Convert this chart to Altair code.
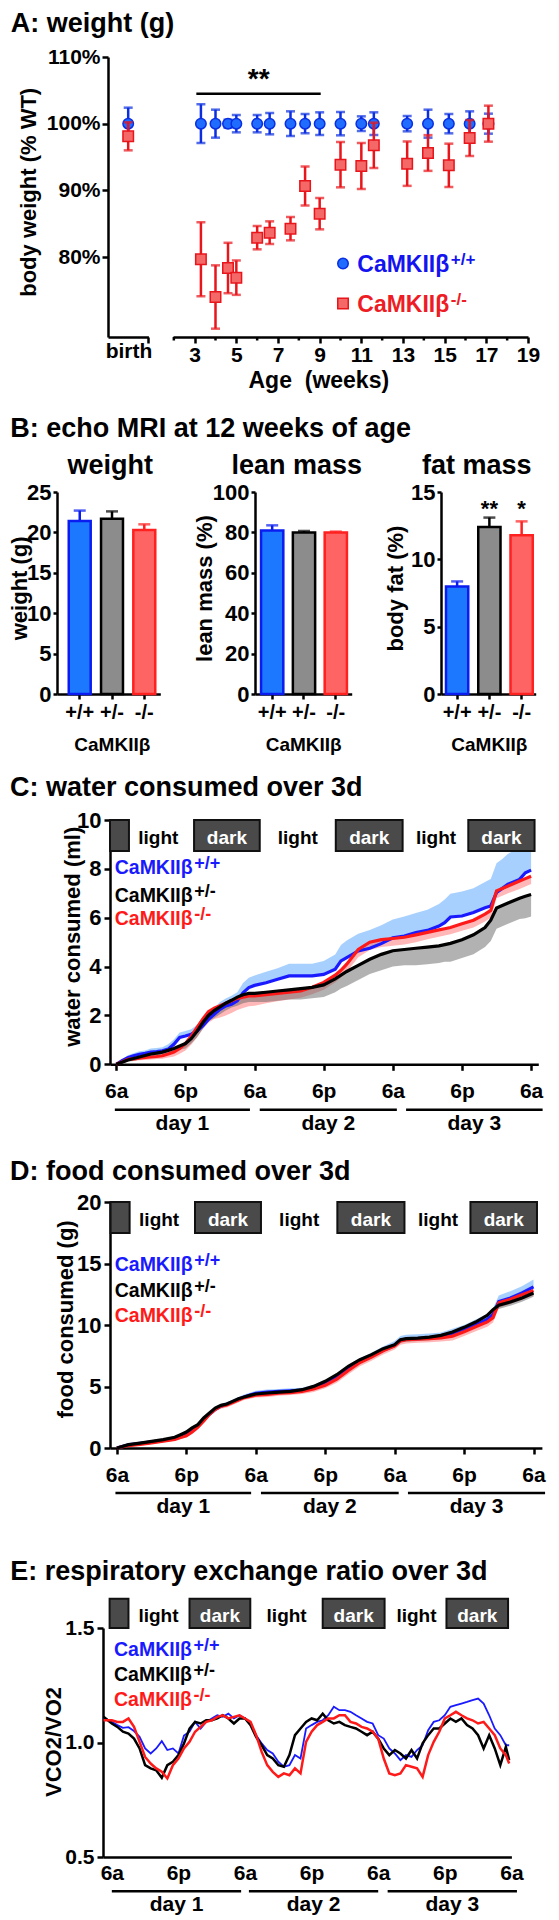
import altair as alt
import pandas as pd

FONT = "Liberation Sans"

# ======================= DATA =======================
# ---- A: body weight relative to WT (%) ----
A_AGES = [3.3, 4, 4.6, 5, 6, 6.6, 7.6, 8.3, 9, 10, 11, 11.6, 13.2, 14.2, 15.2, 16.2, 17.1]
A_WT_MEAN = [100, 100, 100, 100, 100, 100, 100, 100, 100, 100, 100, 100, 100, 100, 100, 100, 100]
A_WT_SEM = [2.9, 2.1, 0.6, 1.3, 1.3, 1.6, 1.85, 1.45, 1.7, 1.75, 1.1, 1.7, 1.15, 2.1, 1.45, 1.85, 1.5]
A_KO_MEAN = [79.65, 74.0, 78.35, 76.9, 82.9, 83.65, 84.25, 90.65, 86.5, 93.85, 93.65, 96.75,
             94.0, 95.6, 93.75, 97.85, 100.0]
A_KO_SEM = [5.55, 4.75, 3.78, 2.58, 1.75, 1.7, 1.75, 2.93, 2.35, 3.4, 3.45, 3.4, 3.33, 2.68, 3.25, 2.7, 2.7]
A_BIRTH_MEAN = [100, 98.1]          # WT, KO
A_BIRTH_SEM = [2.4, 2.1]
A_SIG_SPAN = [3.08, 9.05]
A_SIG_LEVEL = 104.5
A_SIG_STAR = [6.07, 105.3]
A_Y_TICKS = [80, 90, 100, 110]
A_WEEK_TICKS = [3, 5, 7, 9, 11, 13, 15, 17, 19]
A_WEEK_MINOR = [2, 4, 6, 8, 10, 12, 14, 16, 18]

# ---- B: echo MRI ----
B_GENO = ["+/+", "+/-", "-/-"]
B_WEIGHT = [21.4, 21.7, 20.3]
B_WEIGHT_SEM = [1.3, 0.9, 0.7]
B_LEAN = [81.0, 79.9, 79.9]
B_LEAN_SEM = [2.5, 0.8, 0.5]
B_FAT = [7.98, 12.4, 11.78]
B_FAT_SEM = [0.38, 0.7, 1.04]
B_FAT_SIG = ["", "**", "*"]

# ---- C: water consumed (ml) ----
C_HOURS = [0, 1, 2, 3, 4, 5, 6, 7, 8, 9, 10, 11, 12, 13, 14, 15, 16, 17, 18, 19, 20, 21, 22, 23, 24,
           26, 28, 30, 32, 34, 36, 38, 39, 40, 42, 44, 46, 48, 50, 52, 54, 56, 57, 58, 60, 62, 64,
           65, 66, 67, 68, 70, 71, 72]
C_WT = [0, 0.15, 0.27, 0.35, 0.41, 0.45, 0.5, 0.52, 0.55, 0.62, 0.82, 1.1, 1.16, 1.23, 1.36, 1.57,
        1.84, 2.05, 2.25, 2.39, 2.46, 2.6, 2.93, 3.14, 3.23,
        3.34, 3.48, 3.62, 3.62, 3.62, 3.68, 3.89, 4.23, 4.37, 4.64, 4.75, 4.94, 5.18, 5.25, 5.39,
        5.48, 5.66, 5.8, 6.03, 6.07, 6.21, 6.41, 6.48, 7.03, 7.2, 7.37, 7.57, 7.84, 7.95]
C_HET = [0, 0.08, 0.18, 0.24, 0.3, 0.36, 0.42, 0.46, 0.5, 0.57, 0.65, 0.75, 0.85, 1.05, 1.35, 1.7,
         2.0, 2.2, 2.35, 2.5, 2.62, 2.75, 2.85, 2.9, 2.9,
         2.95, 3.0, 3.05, 3.1, 3.15, 3.25, 3.5, 3.65, 3.8, 4.05, 4.3, 4.5, 4.65, 4.7, 4.75, 4.8,
         4.85, 4.9, 4.95, 5.1, 5.3, 5.6, 5.9, 6.4, 6.5, 6.6, 6.8, 6.88, 6.95]
C_KO = [0, 0.1, 0.2, 0.22, 0.25, 0.28, 0.3, 0.32, 0.35, 0.42, 0.5, 0.65, 0.85, 1.15, 1.5, 1.85,
        2.15, 2.3, 2.4, 2.5, 2.6, 2.7, 2.75, 2.8, 2.8,
        2.85, 2.9, 2.95, 3.0, 3.15, 3.35, 3.65, 3.85, 4.1, 4.7, 5.0, 5.1, 5.15, 5.2, 5.3, 5.4,
        5.5, 5.55, 5.6, 5.75, 5.9, 6.15, 6.3, 7.1, 7.2, 7.3, 7.5, 7.6, 7.7]
C_WT_SEM = [0, 0.05, 0.1, 0.1, 0.12, 0.12, 0.15, 0.15, 0.15, 0.2, 0.2, 0.2, 0.2, 0.2, 0.25, 0.25,
            0.25, 0.25, 0.3, 0.3, 0.35, 0.35, 0.4, 0.4, 0.4,
            0.45, 0.45, 0.5, 0.5, 0.5, 0.55, 0.6, 0.65, 0.7, 0.7, 0.75, 0.75, 0.75, 0.8, 0.8, 0.85,
            0.9, 0.95, 0.95, 1.0, 1.0, 1.05, 1.1, 1.2, 1.2, 1.25, 1.3, 1.3, 1.3]
C_HET_SEM = [0, 0.05, 0.08, 0.1, 0.1, 0.1, 0.12, 0.12, 0.15, 0.15, 0.15, 0.15, 0.2, 0.2, 0.25, 0.25,
             0.25, 0.3, 0.3, 0.3, 0.3, 0.35, 0.35, 0.35, 0.35,
             0.4, 0.4, 0.4, 0.45, 0.45, 0.5, 0.55, 0.55, 0.6, 0.6, 0.6, 0.65, 0.65, 0.65, 0.7, 0.7,
             0.7, 0.7, 0.75, 0.75, 0.8, 0.8, 0.85, 0.85, 0.85, 0.85, 0.85, 0.9, 0.9]
C_KO_SEM = [0, 0.04, 0.06, 0.08, 0.08, 0.1, 0.1, 0.1, 0.12, 0.14, 0.18, 0.22, 0.28, 0.35, 0.4, 0.42,
            0.45, 0.45, 0.48, 0.5, 0.5, 0.48, 0.45, 0.42, 0.4,
            0.35, 0.32, 0.3, 0.28, 0.28, 0.3, 0.3, 0.3, 0.32, 0.32, 0.32, 0.3, 0.3, 0.3, 0.3, 0.28,
            0.28, 0.28, 0.28, 0.28, 0.3, 0.3, 0.3, 0.3, 0.3, 0.3, 0.32, 0.32, 0.32]

# ---- D: food consumed (g) ----
D_HOURS = [0, 2, 4, 6, 8, 10, 11, 12, 13, 14, 15, 16, 17, 18, 19, 20, 21, 22, 23, 24,
           26, 28, 30, 32, 34, 36, 38, 40, 42, 44, 46, 48, 49, 50, 52, 54, 56, 58, 60, 62, 64,
           65, 66, 68, 70, 72]
D_WT = [0, 0.25, 0.38, 0.5, 0.62, 0.75, 0.95, 1.15, 1.45, 1.8, 2.3, 2.75, 3.15, 3.4, 3.55, 3.75,
        3.95, 4.15, 4.3, 4.45, 4.55, 4.6, 4.65, 4.7, 4.9, 5.25, 5.75, 6.45, 7.0, 7.45, 7.95, 8.35,
        8.75, 8.85, 8.9, 8.95, 9.05, 9.3, 9.6, 10.0, 10.45, 10.85, 11.9, 12.2, 12.6, 13.1]
D_HET = [0, 0.27, 0.4, 0.54, 0.68, 0.87, 1.08, 1.3, 1.63, 1.9, 2.44, 2.85, 3.25, 3.47, 3.58, 3.79,
         4.01, 4.15, 4.28, 4.39, 4.47, 4.55, 4.61, 4.74, 5.01, 5.42, 5.96, 6.64, 7.18, 7.59, 8.08,
         8.4, 8.81, 8.89, 8.94, 9.02, 9.16, 9.43, 9.81, 10.24, 10.79, 11.25, 11.6, 11.87, 12.2, 12.6]
D_KO = [0, 0.2, 0.3, 0.42, 0.55, 0.7, 0.85, 1.0, 1.3, 1.7, 2.2, 2.75, 3.15, 3.4, 3.5, 3.7, 3.9,
        4.1, 4.2, 4.3, 4.35, 4.45, 4.5, 4.6, 4.8, 5.1, 5.6, 6.3, 6.95, 7.4, 7.9, 8.3, 8.7, 8.8,
        8.85, 8.9, 8.95, 9.1, 9.45, 9.85, 10.25, 10.6, 11.8, 12.1, 12.45, 12.8]
D_WT_SEM = [0, 0.05, 0.08, 0.1, 0.1, 0.12, 0.12, 0.15, 0.15, 0.2, 0.2, 0.2, 0.2, 0.2, 0.2, 0.2,
            0.2, 0.2, 0.2, 0.2, 0.2, 0.2, 0.2, 0.2, 0.25, 0.25, 0.3, 0.3, 0.3, 0.3, 0.3, 0.35,
            0.35, 0.35, 0.35, 0.35, 0.35, 0.4, 0.4, 0.45, 0.45, 0.5, 0.5, 0.55, 0.55, 0.6]
D_HET_SEM = [0, 0.05, 0.06, 0.08, 0.08, 0.1, 0.1, 0.12, 0.12, 0.15, 0.15, 0.15, 0.15, 0.15, 0.15,
             0.15, 0.15, 0.15, 0.15, 0.15, 0.15, 0.15, 0.15, 0.15, 0.2, 0.2, 0.2, 0.2, 0.25, 0.25,
             0.25, 0.25, 0.25, 0.25, 0.25, 0.25, 0.25, 0.25, 0.3, 0.3, 0.3, 0.3, 0.3, 0.3, 0.3, 0.3]
D_KO_SEM = [0, 0.05, 0.08, 0.1, 0.1, 0.12, 0.12, 0.15, 0.15, 0.2, 0.2, 0.2, 0.2, 0.2, 0.2, 0.2,
            0.2, 0.2, 0.2, 0.2, 0.2, 0.2, 0.2, 0.2, 0.25, 0.25, 0.3, 0.3, 0.3, 0.3, 0.3, 0.3,
            0.3, 0.3, 0.3, 0.3, 0.3, 0.35, 0.35, 0.35, 0.4, 0.4, 0.4, 0.4, 0.4, 0.4]

# ---- E: respiratory exchange ratio ----
E_HOURS = [-1.5] + list(range(0, 72)) + [71.6]
E_WT = [1.108, 1.09, 1.076, 1.064, 1.067, 1.05, 1.025, 0.974, 0.952, 0.974, 1.006, 0.967, 0.974,
        0.952, 1.03, 1.047, 1.09, 1.061, 1.09, 1.105, 1.119, 1.112, 1.126, 1.105, 1.119, 1.105,
        1.083, 1.032, 0.996, 0.967, 0.952, 0.916, 0.894, 0.901, 0.945, 0.93, 1.061, 1.076, 1.09,
        1.097, 1.119, 1.156, 1.141, 1.141, 1.134, 1.119, 1.105, 1.09, 1.083, 1.032, 1.017, 0.974,
        0.952, 0.923, 0.945, 0.937, 0.967, 0.988, 1.054, 1.09, 1.097, 1.119, 1.156, 1.163, 1.17,
        1.177, 1.185, 1.192, 1.17, 1.119, 1.061, 1.032, 0.988, 0.988]
E_HET = [1.112, 1.083, 1.068, 1.047, 1.039, 1.017, 0.974, 0.901, 0.887, 0.879, 0.846, 0.901, 0.916,
         0.945, 0.996, 1.061, 1.09, 1.083, 1.097, 1.097, 1.105, 1.119, 1.105, 1.083, 1.105, 1.105,
         1.076, 1.025, 0.988, 0.945, 0.93, 0.901, 0.894, 0.945, 1.032, 1.061, 1.09, 1.105, 1.097,
         1.126, 1.097, 1.083, 1.09, 1.076, 1.068, 1.061, 1.047, 1.032, 1.047, 1.017, 0.974, 0.945,
         0.967, 0.952, 0.93, 0.967, 0.93, 0.996, 1.032, 1.061, 1.061, 1.083, 1.105, 1.09, 1.105,
         1.076, 1.061, 1.032, 0.974, 1.032, 0.974, 0.901, 0.981, 0.923]
E_KO = [1.097, 1.097, 1.09, 1.09, 1.105, 1.068, 1.003, 0.937, 0.908, 0.887, 0.872, 0.843, 0.901,
        0.93, 0.974, 1.003, 1.047, 1.068, 1.09, 1.097, 1.112, 1.119, 1.105, 1.112, 1.119, 1.105,
        1.09, 1.032, 0.959, 0.901, 0.872, 0.85, 0.865, 0.857, 0.887, 0.865, 1.003, 1.047, 1.076,
        1.09, 1.105, 1.105, 1.119, 1.119, 1.09, 1.083, 1.068, 1.061, 1.047, 1.017, 0.93, 0.865,
        0.857, 0.865, 0.901, 0.894, 0.887, 0.85, 0.945, 1.003, 1.047, 1.105, 1.119, 1.134, 1.119,
        1.105, 1.097, 1.083, 1.09, 1.061, 1.032, 0.974, 0.945, 0.908]

# ---- light/dark cycle & day annotations (hours from first 6 am) ----
CLOCK_TICKS = [0, 12, 24, 36, 48, 60, 72]
DAY_NAMES = ["day 1", "day 2", "day 3"]
CD_DAY_START = [-0.25, 24.9, 50.3]
CD_DAY_END = [23.2, 48.7, 74.0]
E_DAY_START = [0.0, 24.7, 49.7]
E_DAY_END = [23.3, 48.0, 73.0]
BOX_TEXT = ["", "dark", "dark", "dark"]
CD_BOX_START = [-1.09, 13.5, 38.1, 61.1]
CD_BOX_END = [2.2, 24.9, 49.7, 72.6]
CD_LIGHT_AT = [7.3, 31.5, 55.5]
E_BOX_START = [-0.4, 14.0, 38.0, 60.3]
E_BOX_END = [3.0, 24.95, 49.15, 71.4]
E_LIGHT_AT = [8.4, 31.5, 54.9]
GENO_SUPS = ["+/+", "+/-", "-/-"]

# ======================= STYLE =======================
A_BLUE_FILL, A_BLUE_EDGE = "#1f6cff", "#0a2ee0"
A_RED_FILL, A_RED_EDGE = "#f46868", "#e8151b"
BAR_FILLS = ["#1c78ff", "#8c8c8c", "#ff6464"]
BAR_EDGES = ["#0a1cf0", "#000000", "#ff2020"]
L_BLUE, L_BLACK, L_RED = "#1a1aff", "#000000", "#ff1a1a"
E_BLUE, E_BLACK, E_RED = "#4fa2ff", "#666666", "#ff7070"


def one_row():
    return pd.DataFrame({"k": [0]})


def label(text, x, y, size, color="black", align="left", baseline="alphabetic", angle=0):
    return alt.Chart(one_row()).mark_text(
        text=text, font=FONT, fontSize=size, fontWeight="bold", color=color,
        align=align, baseline=baseline, angle=angle
    ).encode(x=alt.value(x), y=alt.value(y))


def spacer(w, h):
    return alt.Chart(one_row()).mark_rect(opacity=0).encode(
        x=alt.value(0), x2=alt.value(1), y=alt.value(0), y2=alt.value(1)
    ).properties(width=w, height=h)


def legend(x_right, baselines, colors, sups, size, sup_size, rise):
    out = []
    for b, c, s in zip(baselines, colors, sups):
        out.append(label("CaMKIIβ", x_right, b, size, c, align="right"))
        out.append(label(s, x_right + 1.5, b - rise, sup_size, c))
    return out


# ======================= PANEL A =======================
YA = alt.Scale(domain=[68, 110], nice=False, zero=False)


def err_points(df, xf, xscale, xaxis, yaxis, edge, fill, shape):
    X = alt.X(f"{xf}:Q", scale=xscale, axis=xaxis)
    base = alt.Chart(df)
    rule = base.mark_rule(color=edge, strokeWidth=2.5).encode(
        x=X, y=alt.Y("lo:Q", scale=YA, axis=yaxis), y2="hi:Q")
    caps = base.transform_fold(["lo", "hi"], as_=["end", "val"]).mark_tick(
        color=edge, orient="horizontal", size=9, thickness=2.5
    ).encode(x=X, y=alt.Y("val:Q", scale=YA, axis=yaxis))
    pts = base.mark_point(shape=shape, filled=True, fill=fill, stroke=edge, strokeWidth=1.5,
                          size=110, opacity=1).encode(x=X, y=alt.Y("m:Q", scale=YA, axis=yaxis))
    return [rule, caps, pts]


def mk(x, m, e):
    df = pd.DataFrame({"x": x, "m": m, "e": e})
    df["lo"] = df["m"] - df["e"]
    df["hi"] = df["m"] + df["e"]
    return df


ya_axis = alt.Axis(values=A_Y_TICKS, labelExpr="datum.value + '%'", tickSize=6, labelPadding=2,
                   title=None, labelFontSize=21)
bx_scale = alt.Scale(domain=[0, 2], nice=False, zero=False)
bx_axis = alt.Axis(values=[2], labels=False, tickSize=6, title=None)

birth = alt.layer(
    *err_points(mk([1.0], [A_BIRTH_MEAN[0]], [A_BIRTH_SEM[0]]), "x", bx_scale, bx_axis, ya_axis,
                A_BLUE_EDGE, A_BLUE_FILL, "circle"),
    *err_points(mk([1.0], [A_BIRTH_MEAN[1]], [A_BIRTH_SEM[1]]), "x", bx_scale, bx_axis, ya_axis,
                A_RED_EDGE, A_RED_FILL, "square"),
    label("birth", 21, 301, 21, align="center"),
    label("A: weight (g)", -97.3, -25, 27),
    label("body weight (% WT)", -79, 135.3, 22, align="center", baseline="middle", angle=270),
).properties(width=40.4, height=280)

wx_scale = alt.Scale(domain=[1.96, 19], nice=False, zero=False)
wx_axis = alt.Axis(values=A_WEEK_TICKS, tickSize=6, labelPadding=1, title=None, format="d",
                   labelFontSize=21)
sig_df = pd.DataFrame({"a": [A_SIG_SPAN[0]], "b": [A_SIG_SPAN[1]], "y": [A_SIG_LEVEL]})
star_df = pd.DataFrame({"x": [A_SIG_STAR[0]], "y": [A_SIG_STAR[1]]})
minor_df = pd.DataFrame({"x": A_WEEK_MINOR})

weeks = alt.layer(
    alt.Chart(sig_df).mark_rule(color="black", strokeWidth=2.5).encode(
        x=alt.X("a:Q", scale=wx_scale, axis=wx_axis), x2="b:Q",
        y=alt.Y("y:Q", scale=YA, axis=None)),
    alt.Chart(star_df).mark_text(text="**", font=FONT, fontSize=28, fontWeight="bold",
                                 baseline="alphabetic").encode(
        x=alt.X("x:Q", scale=wx_scale, axis=wx_axis), y=alt.Y("y:Q", scale=YA, axis=None)),
    *err_points(mk(A_AGES, A_WT_MEAN, A_WT_SEM), "x", wx_scale, wx_axis, None,
                A_BLUE_EDGE, A_BLUE_FILL, "circle"),
    *err_points(mk(A_AGES, A_KO_MEAN, A_KO_SEM), "x", wx_scale, wx_axis, None,
                A_RED_EDGE, A_RED_FILL, "square"),
    alt.Chart(minor_df).mark_rule(color="black", strokeWidth=2.5).encode(
        x=alt.X("x:Q", scale=wx_scale, axis=wx_axis), y=alt.value(280), y2=alt.value(283.5)),
    alt.Chart(one_row()).mark_point(shape="circle", filled=True, fill=A_BLUE_FILL,
                                    stroke=A_BLUE_EDGE, strokeWidth=1.5, size=110, opacity=1
                                    ).encode(x=alt.value(170), y=alt.value(206.6)),
    alt.Chart(one_row()).mark_point(shape="square", filled=True, fill=A_RED_FILL,
                                    stroke=A_RED_EDGE, strokeWidth=1.5, size=110, opacity=1
                                    ).encode(x=alt.value(170), y=alt.value(246.6)),
    *legend(276.3, [215, 255], ["#1414f0", "#ee1c24"], ["+/+", "-/-"], 23, 17, 7),
    label("Age\u00a0 (weeks)", 145.8, 331.3, 23, align="center"),
).properties(width=355, height=280)

row_a = alt.hconcat(spacer(99.3, 280), birth, spacer(24, 280), weeks, spacing=0, bounds="flush")


# ======================= PANEL B =======================
def bar_panel(vals, sems, ydom, yvals, w, pi, po, align, extras, stars=None):
    df = pd.DataFrame({"g": B_GENO, "v": vals, "e": sems})
    df["hi"] = df["v"] + df["e"]
    X = alt.X("g:N", sort=B_GENO,
              scale=alt.Scale(domain=B_GENO, paddingInner=pi, paddingOuter=po, align=align),
              axis=alt.Axis(title=None, labelAngle=0, tickSize=5, labelPadding=3, labelFontSize=20))
    ysc = alt.Scale(domain=ydom, nice=False)
    yax = alt.Axis(values=yvals, title=None, tickSize=4, labelPadding=2, labelFontSize=22)
    edge = alt.Scale(domain=B_GENO, range=BAR_EDGES)
    layers = [
        alt.Chart(df).mark_rule(strokeWidth=2.5).encode(
            x=X, y=alt.Y("v:Q", scale=ysc, axis=yax), y2="hi:Q",
            color=alt.Color("g:N", scale=edge, legend=None)),
        alt.Chart(df).mark_tick(orient="horizontal", size=12, thickness=2.5).encode(
            x=X, y=alt.Y("hi:Q", scale=ysc, axis=yax),
            color=alt.Color("g:N", scale=edge, legend=None)),
        alt.Chart(df).mark_bar(strokeWidth=2.5).encode(
            x=X, y=alt.Y("v:Q", scale=ysc, axis=yax),
            fill=alt.Fill("g:N", scale=alt.Scale(domain=B_GENO, range=BAR_FILLS), legend=None),
            stroke=alt.Stroke("g:N", scale=edge, legend=None)),
    ]
    if stars is not None:
        sdf = pd.DataFrame({"g": B_GENO, "s": stars})
        layers.append(alt.Chart(sdf).mark_text(font=FONT, fontSize=22, fontWeight="bold",
                                               baseline="alphabetic").encode(
            x=X, y=alt.value(24), text="s:N"))
    return alt.layer(*layers, *extras).properties(width=w, height=202)


b_weight = bar_panel(B_WEIGHT, B_WEIGHT_SEM, [0, 25], [0, 5, 10, 15, 20, 25], 103.3, 0.32, 0.26, 0.7, [
    label("B: echo MRI at 12 weeks of age", -46.7, -55, 27),
    label("weight", 53.3, -18.5, 27, align="center"),
    label("weight (g)", -36.7, 96.3, 22, align="center", baseline="middle", angle=270),
    label("CaMKIIβ", 55.3, 259, 19, align="center"),
])
b_lean = bar_panel(B_LEAN, B_LEAN_SEM, [0, 100], [0, 20, 40, 60, 80, 100], 96.7, 0.3, 0.17, 0.56, [
    label("lean mass", 41.7, -18.5, 27, align="center"),
    label("lean mass (%)", -50, 96.6, 22, align="center", baseline="middle", angle=270),
    label("CaMKIIβ", 48.7, 259, 19, align="center"),
])
b_fat = bar_panel(B_FAT, B_FAT_SEM, [0, 15], [0, 5, 10, 15], 94.7, 0.31, 0.123, 0.63, [
    label("fat mass", 35.7, -18.5, 27, align="center"),
    label("body fat (%)", -45, 96.6, 22, align="center", baseline="middle", angle=270),
    label("CaMKIIβ", 48.3, 259, 19, align="center"),
], stars=B_FAT_SIG)

row_b = alt.hconcat(spacer(48.7, 202), b_weight, spacer(93.3, 202), b_lean, spacer(88.3, 202),
                    b_fat, spacing=0, bounds="flush")


# ======================= PANELS C, D, E =======================
def time_panel(hours, series, xdom, w, h, ydom, yvals, yfmt, ylab, boxes, box_y, box_text_y,
               light_at, days, day_line_y, day_text_y, xticks, xpad, extras):
    xaxis = alt.Axis(values=CLOCK_TICKS, labelExpr="datum.value % 24 == 0 ? '6a' : '6p'",
                     ticks=xticks, tickSize=6, labelPadding=xpad, title=None)
    yaxis = alt.Axis(values=yvals, format=yfmt, tickSize=6, labelPadding=3, title=None,
                     labelFontSize=ylab)

    def X(f):
        return alt.X(f"{f}:Q", scale=alt.Scale(domain=xdom, nice=False, zero=False), axis=xaxis)

    def Y(f):
        return alt.Y(f"{f}:Q", scale=alt.Scale(domain=ydom, nice=False, zero=False), axis=yaxis)

    layers = []
    for vals, sem, up, lc, ec, lw in series:
        if sem is None:
            continue
        df = pd.DataFrame({"t": hours, "v": vals, "e": sem})
        df["lo"] = df["v"] if up else df["v"] - df["e"]
        df["hi"] = df["v"] + df["e"] if up else df["v"]
        layers.append(alt.Chart(df).mark_area(color=ec, opacity=0.5).encode(
            x=X("t"), y=Y("lo"), y2="hi:Q"))
    for vals, sem, up, lc, ec, lw in series:
        df = pd.DataFrame({"t": hours, "v": vals})
        layers.append(alt.Chart(df).mark_line(color=lc, strokeWidth=lw).encode(x=X("t"), y=Y("v")))

    bdf = pd.DataFrame({"s": boxes[0], "e": boxes[1], "lab": BOX_TEXT})
    bdf["mid"] = (bdf["s"] + bdf["e"]) / 2
    layers.append(alt.Chart(bdf).mark_rect(fill="#4a4a4a", stroke="#111111", strokeWidth=2).encode(
        x=X("s"), x2="e:Q", y=alt.value(box_y[0]), y2=alt.value(box_y[1])))
    layers.append(alt.Chart(bdf).mark_text(color="white", font=FONT, fontSize=19, fontWeight="bold",
                                           baseline="alphabetic").encode(
        x=X("mid"), y=alt.value(box_text_y), text="lab:N"))
    ldf = pd.DataFrame({"t": light_at})
    layers.append(alt.Chart(ldf).mark_text(text="light", color="black", font=FONT, fontSize=19,
                                           fontWeight="bold", baseline="alphabetic").encode(
        x=X("t"), y=alt.value(box_text_y)))
    ddf = pd.DataFrame({"s": days[0], "e": days[1], "lab": DAY_NAMES})
    ddf["mid"] = (ddf["s"] + ddf["e"]) / 2
    layers.append(alt.Chart(ddf).mark_rule(color="black", strokeWidth=2.5).encode(
        x=X("s"), x2="e:Q", y=alt.value(day_line_y)))
    layers.append(alt.Chart(ddf).mark_text(font=FONT, fontSize=21, fontWeight="bold",
                                           baseline="alphabetic").encode(
        x=X("mid"), y=alt.value(day_text_y), text="lab:N"))
    return alt.layer(*layers, *extras).properties(width=w, height=h)


panel_c = time_panel(
    C_HOURS,
    [(C_WT, C_WT_SEM, True, L_BLUE, E_BLUE, 3.2),
     (C_KO, C_KO_SEM, False, L_RED, E_RED, 3.2),
     (C_HET, C_HET_SEM, False, L_BLACK, E_BLACK, 3.2)],
    [-1.09, 73.25], 428.3, 244.3, [0, 10], [0, 2, 4, 6, 8, 10], "d", 22,
    (CD_BOX_START, CD_BOX_END), (0, 31), 24.3, CD_LIGHT_AT, (CD_DAY_START, CD_DAY_END),
    289.7, 309.5, True, 10,
    [label("C: water consumed over 3d", -100, -24, 27),
     label("water consumed (ml)", -37.3, 116.8, 22, align="center", baseline="middle", angle=270),
     *legend(82.7, [54.3, 82, 105], [L_BLUE, L_BLACK, L_RED], GENO_SUPS, 19.5, 18, 5)],
)

panel_d = time_panel(
    D_HOURS,
    [(D_WT, D_WT_SEM, True, L_BLUE, E_BLUE, 3.2),
     (D_KO, D_KO_SEM, False, L_RED, E_RED, 3.2),
     (D_HET, D_HET_SEM, False, L_BLACK, E_BLACK, 3.2)],
    [-1.19, 73.45], 431.9, 246, [0, 20], [0, 5, 10, 15, 20], "d", 22,
    (CD_BOX_START, CD_BOX_END), (0, 31), 24.3, CD_LIGHT_AT, (CD_DAY_START, CD_DAY_END),
    291, 310.5, True, 10,
    [label("D: food consumed over 3d", -100, -22.4, 27),
     label("food consumed (g)", -44, 117.3, 22, align="center", baseline="middle", angle=270),
     *legend(82.7, [69.3, 95, 119.5], [L_BLUE, L_BLACK, L_RED], GENO_SUPS, 19.5, 18, 5)],
)

panel_e = time_panel(
    E_HOURS,
    [(E_WT, None, True, L_BLUE, E_BLUE, 1.8),
     (E_HET, None, True, L_BLACK, E_BLACK, 2.5),
     (E_KO, None, True, L_RED, E_RED, 2.5)],
    [-1.59, 72], 408.4, 229, [0.5, 1.5], [0.5, 1.0, 1.5], ".1f", 21,
    (E_BOX_START, E_BOX_END), (-29.3, 0), -6, E_LIGHT_AT, (E_DAY_START, E_DAY_END),
    263.3, 283.3, False, 5,
    [label("E: respiratory exchange ratio over 3d", -92.7, -47.7, 27),
     label("VCO2/VO2", -49.4, 114, 22, align="center", baseline="middle", angle=270),
     *legend(89, [28.3, 53.3, 78.3], [L_BLUE, L_BLACK, L_RED], GENO_SUPS, 19.5, 18, 5)],
)

row_c = alt.hconcat(spacer(102, 244.3), panel_c, spacing=0, bounds="flush")
row_d = alt.hconcat(spacer(102, 246), panel_d, spacing=0, bounds="flush")
row_e = alt.hconcat(spacer(94.7, 229), panel_e, spacing=0, bounds="flush")

# nested rows take no height in a flush layout, so each gap row carries the
# height of the row above it plus the gap to the next plot area
chart = alt.vconcat(
    spacer(1, 48.7), row_a, spacer(1, 280 + 155), row_b, spacer(1, 202 + 125.3), row_c,
    spacer(1, 244.3 + 137.4), row_d, spacer(1, 246 + 179.3), row_e,
    spacing=0, bounds="flush",
).properties(padding=0).configure_view(stroke=None).configure_axis(
    grid=False, domainColor="black", domainWidth=2.5, tickColor="black", tickWidth=2.5,
    labelFont=FONT, labelFontWeight="bold", labelFontSize=21, labelColor="black",
    labelFlush=False, labelOverlap=False, titleFont=FONT,
)

chart.save("out.html", embed_options={"renderer": "svg", "actions": False})
